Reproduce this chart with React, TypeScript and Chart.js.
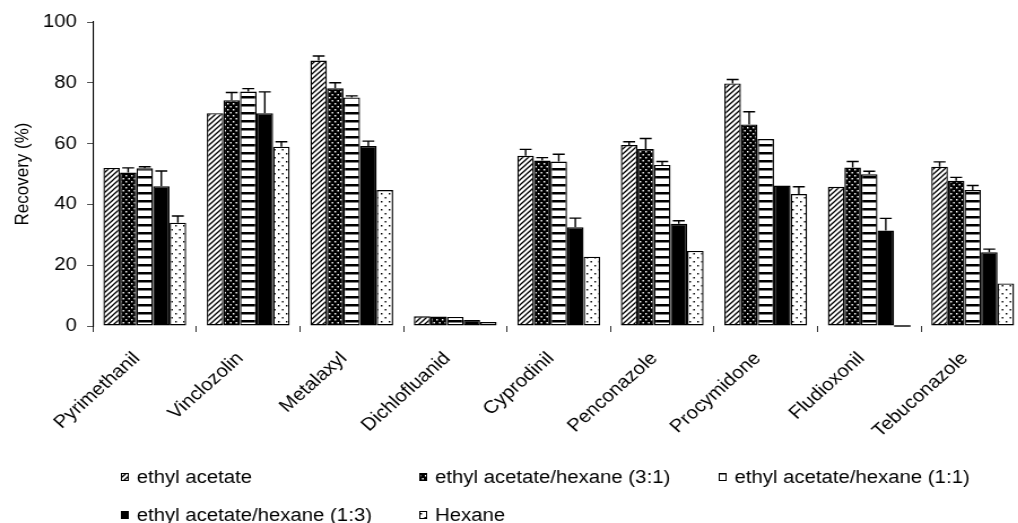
import React, { useEffect, useRef } from "react";
import { Chart, registerables } from "chart.js";

Chart.register(...registerables);

// Compounds on the category axis
const compounds = [
  "Pyrimethanil",
  "Vinclozolin",
  "Metalaxyl",
  "Dichlofluanid",
  "Cyprodinil",
  "Penconazole",
  "Procymidone",
  "Fludioxonil",
  "Tebuconazole",
];

// Extraction solvents (one series each)
const solvents = [
  "ethyl acetate",
  "ethyl acetate/hexane (3:1)",
  "ethyl acetate/hexane (1:1)",
  "ethyl acetate/hexane (1:3)",
  "Hexane",
];

// Mean recoveries (%) and their standard deviations
const ethylAcetate = [52, 70, 87.3, 3.2, 56, 59.5, 79.8, 45.8, 52.4];
const ethylAcetateSd = [0, 0, 1.5, 0, 2.1, 1.1, 1.3, 0, 1.6];
const eaHexane31 = [50.5, 74.3, 78.2, 3.1, 54.4, 58.2, 66.3, 52.1, 47.8];
const eaHexane31Sd = [1.5, 2.5, 1.8, 0, 1, 3.5, 4.2, 2, 1.1];
const eaHexane11 = [51.9, 77.1, 75.2, 3.0, 54.1, 53.0, 61.5, 49.9, 44.7];
const eaHexane11Sd = [0.5, 1, 0.5, 0, 2.4, 1.1, 0, 1, 1.5];
const eaHexane13 = [46, 70, 59.2, 2.0, 32.5, 33.6, 46.2, 31.4, 24.3];
const eaHexane13Sd = [5, 7, 1.6, 0, 3, 1, 0, 4, 1];
const hexane = [34, 59, 44.7, 1.3, 22.8, 24.7, 43.4, 0, 14];
const hexaneSd = [2.2, 1.6, 0, 0, 0, 0, 2.4, 0, 0];

const seriesValues = [ethylAcetate, eaHexane31, eaHexane11, eaHexane13, hexane];
const seriesSd = [ethylAcetateSd, eaHexane31Sd, eaHexane11Sd, eaHexane13Sd, hexaneSd];

// Value axis
const yMin = 0;
const yMax = 100;
const yStep = 20;
const yTitle = "Recovery (%)";

const FONT = '"Liberation Sans", Arial, Helvetica, sans-serif';

// The figure is drawn narrow and widened horizontally as a whole
const WIDEN = 1.13;
const CANVAS_W = 920;
const CANVAS_H = 523;

function tile(w: number, h: number, paint: (c: CanvasRenderingContext2D) => void) {
  const cv = document.createElement("canvas");
  cv.width = w;
  cv.height = h;
  const c = cv.getContext("2d")!;
  paint(c);
  return c.createPattern(cv, "repeat") as CanvasPattern;
}

// Fill patterns for the five solvents
function makePatterns(): (CanvasPattern | string)[] {
  const diagonal = tile(5, 5, (c) => {
    c.fillStyle = "#fff";
    c.fillRect(0, 0, 5, 5);
    c.strokeStyle = "#000";
    c.lineWidth = 1.3;
    c.beginPath();
    c.moveTo(-1, 6);
    c.lineTo(6, -1);
    c.moveTo(-2, 2);
    c.lineTo(2, -2);
    c.moveTo(3, 7);
    c.lineTo(7, 3);
    c.stroke();
  });
  const darkDots = tile(5, 6, (c) => {
    c.fillStyle = "#000";
    c.fillRect(0, 0, 5, 6);
    c.fillStyle = "#fff";
    c.fillRect(1, 1, 1.4, 1.5);
    c.fillRect(3.5, 4, 1.4, 1.5);
  });
  const hLines = tile(8, 8, (c) => {
    c.fillStyle = "#fff";
    c.fillRect(0, 0, 8, 8);
    c.fillStyle = "#000";
    c.fillRect(0, 0, 8, 2.5);
  });
  const lightDots = tile(7, 8, (c) => {
    c.fillStyle = "#fff";
    c.fillRect(0, 0, 7, 8);
    c.fillStyle = "#000";
    c.fillRect(1, 1, 1.4, 1.5);
    c.fillRect(4.5, 5, 1.4, 1.5);
  });
  return [diagonal, darkDots, hLines, "#000", lightDots];
}

// Upper standard-deviation whiskers with caps; zero recoveries get a flat outline
const errorBarPlugin = {
  id: "errorBars",
  afterDatasetsDraw(chart: any) {
    const { ctx } = chart;
    const y = chart.scales.y;
    ctx.save();
    ctx.strokeStyle = "#000";
    ctx.lineWidth = 1.4;
    chart.data.datasets.forEach((ds: any, i: number) => {
      const meta = chart.getDatasetMeta(i);
      const sd: number[] = ds.sd;
      meta.data.forEach((bar: any, j: number) => {
        const v = ds.data[j];
        const y0 = y.getPixelForValue(v);
        if (v === 0) {
          ctx.beginPath();
          ctx.moveTo(bar.x - bar.width / 2, y0);
          ctx.lineTo(bar.x + bar.width / 2, y0);
          ctx.stroke();
        }
        const e = sd[j];
        if (!e) return;
        const y1 = y.getPixelForValue(v + e);
        const half = bar.width * 0.36;
        ctx.beginPath();
        ctx.moveTo(bar.x, y0);
        ctx.lineTo(bar.x, y1);
        ctx.moveTo(bar.x - half, y1);
        ctx.lineTo(bar.x + half, y1);
        ctx.stroke();
      });
    });
    ctx.restore();
  },
};

// Legend laid out in two rows below the category labels
const legendSlots = [
  { x: 107, y: 477 },
  { x: 371, y: 477 },
  { x: 636, y: 477 },
  { x: 107, y: 515 },
  { x: 371, y: 515 },
];

const legendPlugin = {
  id: "solventLegend",
  afterDraw(chart: any) {
    const { ctx } = chart;
    ctx.save();
    ctx.font = `18px ${FONT}`;
    ctx.textBaseline = "middle";
    chart.data.datasets.forEach((ds: any, i: number) => {
      const slot = legendSlots[i];
      const w = 7;
      const h = 8;
      ctx.fillStyle = ds.backgroundColor;
      ctx.fillRect(slot.x, slot.y - h / 2, w, h);
      ctx.strokeStyle = "#000";
      ctx.lineWidth = 1;
      ctx.strokeRect(slot.x + 0.5, slot.y - h / 2 + 0.5, w - 1, h - 1);
      ctx.fillStyle = "#000";
      ctx.fillText(ds.label, slot.x + 14, slot.y + 1);
    });
    ctx.restore();
  },
};

export default function App() {
  const canvasRef = useRef<HTMLCanvasElement>(null);

  useEffect(() => {
    const canvas = canvasRef.current;
    if (!canvas) return;
    const fills = makePatterns();

    const chart = new Chart(canvas, {
      type: "bar",
      data: {
        labels: compounds,
        datasets: solvents.map((name, i) => ({
          label: name,
          data: seriesValues[i],
          sd: seriesSd[i],
          backgroundColor: fills[i],
          borderColor: "#000",
          borderWidth: 1.4,
          borderSkipped: false,
          categoryPercentage: 0.8,
          barPercentage: 1.0,
        })) as any,
      },
      options: {
        animation: false,
        responsive: true,
        maintainAspectRatio: false,
        layout: { padding: { top: 22, right: 13.4, left: 0, bottom: 0 } },
        plugins: {
          legend: { display: false },
          tooltip: { enabled: false },
        },
        scales: {
          x: {
            type: "category",
            offset: true,
            border: { display: false },
            grid: {
              display: true,
              offset: true,
              drawOnChartArea: false,
              drawTicks: true,
              tickLength: 6,
              color: "#333",
            },
            ticks: {
              color: "#000",
              font: { family: FONT, size: 18 },
              maxRotation: 45,
              minRotation: 45,
              autoSkip: false,
              padding: 16,
              labelOffset: -7,
            },
            afterFit(scale: any) {
              scale.height = 197;
              scale.paddingLeft = 0;
              scale.paddingRight = 0;
            },
          },
          y: {
            min: yMin,
            max: yMax,
            border: { display: true, color: "#000", width: 1.1 },
            grid: {
              display: true,
              drawOnChartArea: false,
              drawTicks: true,
              tickLength: 5.3,
              color: "#555",
            },
            ticks: {
              stepSize: yStep,
              color: "#000",
              font: { family: FONT, size: 18 },
              padding: 9,
            },
            title: {
              display: true,
              text: yTitle,
              color: "#000",
              font: { family: FONT, size: 17 },
              padding: { top: 10, bottom: 0 },
            },
            afterFit(scale: any) {
              scale.width = 82.3;
            },
          },
        },
      },
      plugins: [errorBarPlugin, legendPlugin],
    });

    return () => chart.destroy();
  }, []);

  return (
    <div
      style={{
        position: "fixed",
        left: 0,
        top: 0,
        width: 1018,
        height: 523,
        overflow: "hidden",
        background: "#fff",
      }}
    >
      <div
        style={{
          position: "relative",
          width: CANVAS_W,
          height: CANVAS_H,
          transform: `scaleX(${WIDEN})`,
          transformOrigin: "0 0",
        }}
      >
        <canvas ref={canvasRef} />
      </div>
    </div>
  );
}
